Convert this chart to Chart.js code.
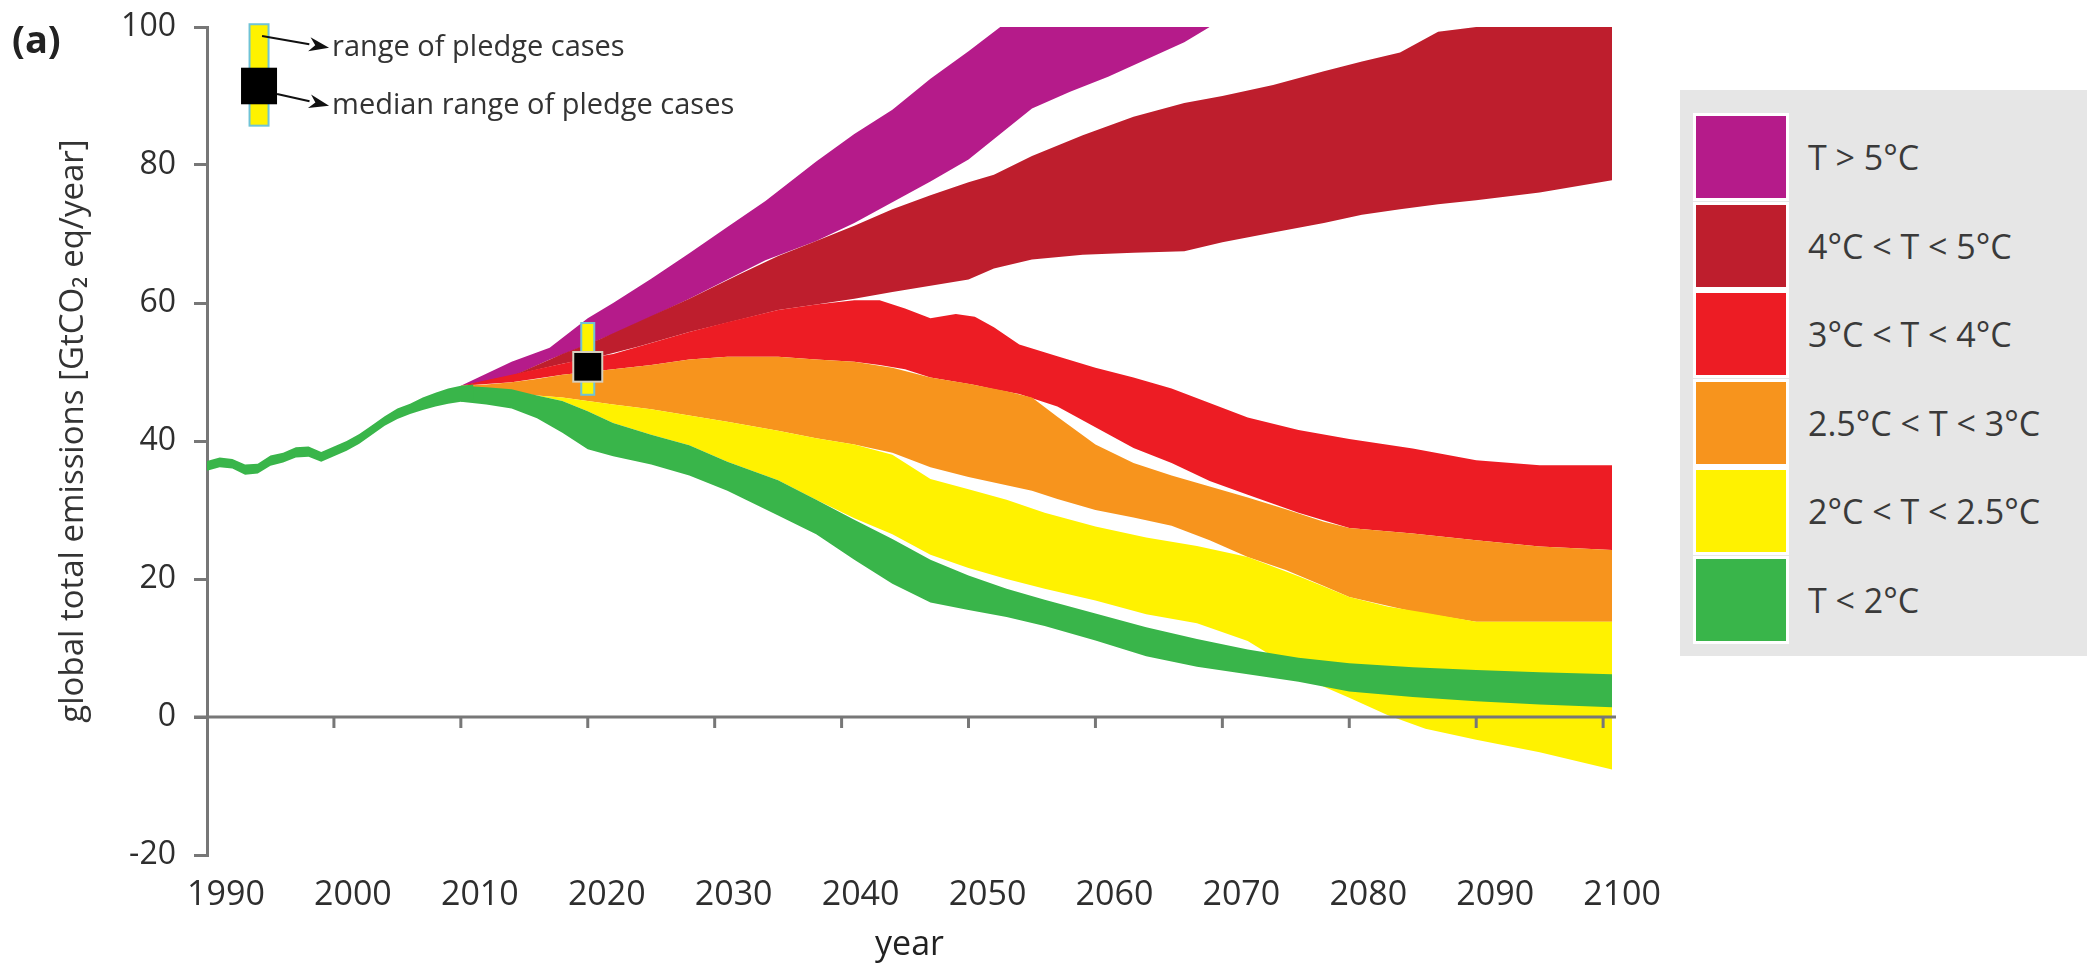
<!DOCTYPE html>
<html>
<head>
<meta charset="utf-8">
<title>Global emission pathways</title>
<script src="https://cdn.jsdelivr.net/npm/chart.js@4.4.1/dist/chart.umd.min.js"></script>
<style>
  html, body { margin: 0; padding: 0; background: #fff; }
  #wrap { position: relative; width: 2087px; height: 963px; overflow: hidden; }
  #legend { position: absolute; left: 1680px; top: 90px; width: 407px; height: 566px; background: #e6e6e6; }
  .row { position: absolute; left: 13px; height: 88px; display: flex; align-items: center; }
  .sw { width: 90px; height: 82px; border: 3px solid #fff; }
  .lab { margin-left: 19px; font: 34px 'Open Sans', sans-serif; color: #3a3a3a; white-space: nowrap; }
</style>
</head>
<body>
<div id="wrap">
  <canvas id="chart" width="2087" height="963"></canvas>
  <div id="legend"></div>
</div>
<script>
// Axis ticks
const xTicks = [1990, 2000, 2010, 2020, 2030, 2040, 2050, 2060, 2070, 2080, 2090, 2100];
const yTicks = [-20, 0, 20, 40, 60, 80, 100];

// Historical emissions (thin band)
const histYears = [1990, 1991, 1992, 1993, 1994, 1995, 1996, 1997, 1998, 1999, 2000, 2001, 2002, 2003, 2004, 2005, 2006, 2007, 2008, 2009, 2010, 2011];
const histUpper = [37.1, 37.6, 37.4, 36.6, 36.7, 37.9, 38.3, 39.1, 39.2, 38.4, 39.2, 40.0, 41.0, 42.3, 43.6, 44.7, 45.4, 46.3, 47.0, 47.6, 48.0, 48.2];
const histLower = [35.7, 36.2, 36.0, 35.1, 35.3, 36.4, 36.9, 37.6, 37.7, 37.0, 37.8, 38.6, 39.6, 40.9, 42.2, 43.2, 43.9, 44.5, 45.0, 45.4, 45.7, 46.0];

// T < 2°C
const greenYears = [2010, 2012, 2014, 2016, 2018, 2020, 2022, 2025, 2028, 2031, 2035, 2038, 2041, 2044, 2047, 2050, 2053, 2056, 2060, 2064, 2068, 2072, 2076, 2080, 2085, 2090, 2095, 2100.7];
const greenUpper = [48.0, 47.8, 47.5, 46.6, 45.8, 44.3, 42.6, 40.9, 39.4, 37.0, 34.3, 31.5, 28.6, 25.8, 22.8, 20.5, 18.6, 17.0, 15.0, 13.0, 11.3, 9.8, 8.6, 7.8, 7.2, 6.8, 6.5, 6.2];
const greenLower = [45.7, 45.3, 44.7, 43.3, 41.2, 38.8, 37.8, 36.6, 35.0, 32.8, 29.2, 26.5, 22.8, 19.3, 16.6, 15.5, 14.5, 13.2, 11.1, 8.8, 7.3, 6.2, 5.1, 3.7, 2.9, 2.3, 1.8, 1.4];

// 2°C < T < 2.5°C
const yellowYears = [2016, 2018, 2020, 2022, 2025, 2028, 2031, 2035, 2038, 2041, 2044, 2047, 2050, 2053, 2056, 2060, 2064, 2068, 2072, 2076, 2078, 2080, 2083, 2086, 2090, 2095, 2100.7];
const yellowUpper = [46.6, 46.3, 45.8, 45.3, 44.6, 43.7, 42.8, 41.5, 40.4, 39.5, 38.0, 34.5, 33.0, 31.5, 29.6, 27.6, 26.0, 24.8, 23.2, 20.4, 18.9, 17.4, 16.0, 15.1, 13.8, 13.8, 13.8];
const yellowLower = [46.6, 45.8, 44.3, 42.6, 40.9, 39.4, 37.0, 34.3, 31.5, 28.8, 26.5, 23.5, 21.6, 20.0, 18.6, 16.9, 14.9, 13.6, 11.0, 6.5, 4.4, 2.8, 0.3, -1.7, -3.3, -5.1, -7.6];

// 2.5°C < T < 3°C
const orangeYears = [2010, 2012, 2014, 2016, 2018, 2020, 2022, 2025, 2028, 2031, 2035, 2038, 2041, 2044, 2047, 2050, 2053, 2055, 2057, 2060, 2063, 2066, 2069, 2072, 2075, 2078, 2080, 2085, 2090, 2095, 2100.7];
const orangeUpper = [48.0, 48.2, 48.5, 49.0, 49.6, 50.0, 50.4, 51.0, 51.8, 52.2, 52.2, 51.8, 51.5, 50.6, 49.2, 48.3, 47.2, 46.3, 43.5, 39.5, 36.8, 35.0, 33.4, 31.8, 30.1, 28.3, 27.4, 26.6, 25.6, 24.7, 24.2];
const orangeLower = [47.8, 47.5, 47.1, 46.6, 46.3, 45.8, 45.3, 44.6, 43.7, 42.8, 41.5, 40.4, 39.5, 38.3, 36.2, 34.8, 33.6, 32.8, 31.6, 30.0, 28.9, 27.7, 25.6, 23.2, 21.3, 19.0, 17.4, 15.3, 13.8, 13.8, 13.8];

// 3°C < T < 4°C
const redYears = [2010, 2014, 2018, 2020, 2022, 2025, 2028, 2031, 2035, 2038, 2041, 2043, 2045, 2047, 2049, 2050.5, 2052, 2054, 2057, 2060, 2063, 2066, 2069, 2072, 2076, 2080, 2085, 2090, 2095, 2100.7];
const redUpper = [48.0, 49.6, 51.2, 52.0, 52.6, 54.2, 55.8, 57.2, 59.0, 59.8, 60.4, 60.4, 59.2, 57.8, 58.4, 58.0, 56.5, 54.0, 52.3, 50.6, 49.2, 47.6, 45.5, 43.4, 41.6, 40.3, 38.9, 37.2, 36.5, 36.5];
const redLower = [48.0, 48.5, 49.6, 50.0, 50.4, 51.0, 51.8, 52.2, 52.2, 51.8, 51.5, 51.0, 50.4, 49.2, 48.6, 48.1, 47.5, 46.8, 45.0, 42.0, 39.0, 36.8, 34.2, 32.2, 29.6, 27.4, 26.6, 25.6, 24.7, 24.2];

// 4°C < T < 5°C
const darkRedYears = [2010, 2014, 2018, 2021, 2024, 2028, 2032, 2035, 2038, 2041, 2044, 2047, 2050, 2052, 2055, 2059, 2063, 2067, 2070, 2074, 2078, 2081, 2084, 2087, 2090, 2095, 2100.7];
const darkRedUpper = [48.0, 49.4, 52.6, 54.8, 57.3, 60.6, 64.2, 66.8, 69.0, 71.2, 73.6, 75.6, 77.5, 78.6, 81.3, 84.3, 87.0, 89.0, 90.0, 91.6, 93.6, 95.0, 96.3, 99.3, 100, 100, 100];
const darkRedLower = [48.0, 49.5, 51.2, 52.3, 53.7, 55.8, 57.6, 59.0, 59.8, 60.6, 61.6, 62.5, 63.4, 65.0, 66.3, 67.0, 67.3, 67.5, 68.8, 70.2, 71.6, 72.8, 73.6, 74.3, 74.9, 76.0, 77.8];

// T > 5°C
const magentaYears = [2010, 2014, 2017, 2020, 2022, 2025, 2028, 2031, 2034, 2038, 2041, 2044, 2047, 2050, 2052.5, 2055, 2058, 2061, 2064, 2067, 2069];
const magentaUpper = [48.0, 51.5, 53.5, 57.8, 60.0, 63.5, 67.2, 71.0, 74.8, 80.5, 84.5, 88.0, 92.5, 96.5, 100, 100, 100, 100, 100, 100, 100];
const magentaLower = [48.0, 49.3, 51.8, 54.0, 55.5, 58.0, 60.6, 63.4, 66.2, 69.0, 71.6, 74.6, 77.6, 80.8, 84.5, 88.2, 90.6, 92.8, 95.3, 97.8, 100];

// Pledge case marker and its key
const pledgeYear = 2020;
const pledgeRange = [46.7, 57.1];
const pledgeMedian = [48.6, 52.9];
const keyYear = 1994.1;
const keyRange = [85.7, 100.4];
const keyMedian = [88.8, 94.1];

const legendLabels = ['T > 5°C', '4°C < T < 5°C', '3°C < T < 4°C', '2.5°C < T < 3°C', '2°C < T < 2.5°C', 'T < 2°C'];
const legendColors = ['#b51b8a', '#be1e2d', '#ed1c24', '#f7941d', '#fff200', '#39b54a'];

const COLORS = {
    magenta: '#b51b8a',
    darkRed: '#be1e2d',
    red: '#ed1c24',
    orange: '#f7941d',
    yellow: '#fff200',
    green: '#39b54a'
};
const AXIS = '#777';
const TEXT = '#333';

function toPoints(xs, ys) {
    return xs.map((x, i) => ({ x, y: ys[i] }));
}

// each band = a lower line plus an upper line filled down to it
function band(years, lower, upper, color) {
    return [
        { data: toPoints(years, lower), borderColor: 'rgba(0,0,0,0)', borderWidth: 1, pointRadius: 0, fill: false },
        { data: toPoints(years, upper), borderColor: 'rgba(0,0,0,0)', borderWidth: 1, pointRadius: 0,
          backgroundColor: color, fill: '-1' }
    ];
}

// first dataset is painted last, so green ends up on top
const datasets = [
    ...band(histYears, histLower, histUpper, COLORS.green),
    ...band(greenYears, greenLower, greenUpper, COLORS.green),
    ...band(yellowYears, yellowLower, yellowUpper, COLORS.yellow),
    ...band(orangeYears, orangeLower, orangeUpper, COLORS.orange),
    ...band(redYears, redLower, redUpper, COLORS.red),
    ...band(darkRedYears, darkRedLower, darkRedUpper, COLORS.darkRed),
    ...band(magentaYears, magentaLower, magentaUpper, COLORS.magenta)
];

function arrow(ctx, x1, y1, x2, y2) {
    const a = Math.atan2(y2 - y1, x2 - x1);
    const len = 20, half = 7;
    ctx.beginPath();
    ctx.moveTo(x1, y1);
    ctx.lineTo(x2 - len * Math.cos(a), y2 - len * Math.sin(a));
    ctx.stroke();
    ctx.beginPath();
    ctx.moveTo(x2, y2);
    ctx.lineTo(x2 - len * Math.cos(a) + half * Math.sin(a), y2 - len * Math.sin(a) - half * Math.cos(a));
    ctx.lineTo(x2 - len * 0.7 * Math.cos(a), y2 - len * 0.7 * Math.sin(a));
    ctx.lineTo(x2 - len * Math.cos(a) - half * Math.sin(a), y2 - len * Math.sin(a) + half * Math.cos(a));
    ctx.closePath();
    ctx.fill();
}

function pledgeMarker(ctx, x, y, year, range, median, barW, boxW, boxEdge) {
    const px = x.getPixelForValue(year);
    const top = y.getPixelForValue(range[1]);
    const bottom = y.getPixelForValue(range[0]);
    ctx.fillStyle = COLORS.yellow;
    ctx.strokeStyle = '#6fc3d6';
    ctx.lineWidth = 2;
    ctx.fillRect(px - barW / 2, top, barW, bottom - top);
    ctx.strokeRect(px - barW / 2, top, barW, bottom - top);
    const mTop = y.getPixelForValue(median[1]);
    const mBottom = y.getPixelForValue(median[0]);
    ctx.fillStyle = '#000';
    ctx.fillRect(px - boxW / 2, mTop, boxW, mBottom - mTop);
    if (boxEdge) {
        ctx.strokeStyle = boxEdge;
        ctx.strokeRect(px - boxW / 2, mTop, boxW, mBottom - mTop);
    }
    return px;
}

const decorations = {
    id: 'decorations',
    afterDatasetsDraw(chart) {
        const { ctx, scales: { x, y } } = chart;
        ctx.save();

        // horizontal axis drawn at zero, ticks hanging below it
        const y0 = y.getPixelForValue(0);
        ctx.strokeStyle = AXIS;
        ctx.lineWidth = 3;
        ctx.beginPath();
        ctx.moveTo(x.left - 13, y0);
        ctx.lineTo(x.right + 4, y0);
        ctx.stroke();
        xTicks.slice(1).forEach(v => {
            const px = x.getPixelForValue(v);
            ctx.beginPath();
            ctx.moveTo(px, y0);
            ctx.lineTo(px, y0 + 11);
            ctx.stroke();
        });

        // pledge markers
        pledgeMarker(ctx, x, y, pledgeYear, pledgeRange, pledgeMedian, 13, 29, '#d6cfbf');
        const kx = pledgeMarker(ctx, x, y, keyYear, keyRange, keyMedian, 19, 36, null);

        // key arrows and text
        ctx.strokeStyle = '#111';
        ctx.fillStyle = '#111';
        ctx.lineWidth = 2;
        arrow(ctx, kx + 3, y.getPixelForValue(98.7), kx + 70, y.getPixelForValue(97.0));
        arrow(ctx, kx + 18, y.getPixelForValue(90.3), kx + 70, y.getPixelForValue(88.6));
        ctx.fillStyle = TEXT;
        ctx.font = "29px 'Open Sans', sans-serif";
        ctx.textAlign = 'left';
        ctx.textBaseline = 'middle';
        ctx.fillText('range of pledge cases', kx + 73, y.getPixelForValue(97.0));
        ctx.fillText('median range of pledge cases', kx + 73, y.getPixelForValue(88.6));

        // panel letter
        ctx.fillStyle = '#222';
        ctx.font = "bold 38px 'Open Sans', sans-serif";
        ctx.fillText('(a)', 12, 42);

        // axis titles
        ctx.font = "34px 'Open Sans', sans-serif";
        ctx.textAlign = 'center';
        ctx.fillText('year', (x.left + x.right) / 2, 945);

        ctx.translate(74, 431);
        ctx.rotate(-Math.PI / 2);
        ctx.fillStyle = TEXT;
        ctx.font = "33px 'Open Sans', sans-serif";
        ctx.fillText('global total emissions [GtCO\u2082 eq/year]', 0, 0);
        ctx.restore();
    }
};

function noPadding(scale) {
    scale.paddingLeft = 0;
    scale.paddingRight = 0;
    scale.paddingTop = 0;
    scale.paddingBottom = 0;
}

function buildLegend() {
    const box = document.getElementById('legend');
    legendLabels.forEach((label, i) => {
        const row = document.createElement('div');
        row.className = 'row';
        row.style.top = (23 + i * 88.5) + 'px';
        row.innerHTML = `<div class="sw" style="background:${legendColors[i]}"></div><span class="lab">${label}</span>`;
        box.appendChild(row);
    });
}

Chart.defaults.font.family = "'Open Sans', sans-serif";

new Chart(document.getElementById('chart'), {
    type: 'line',
    data: { datasets },
    options: {
        responsive: false,
        animation: false,
        events: [],
        layout: { padding: { top: 27, right: 475, left: 0, bottom: 0 } },
        plugins: {
            legend: { display: false },
            tooltip: { enabled: false }
        },
        scales: {
            x: {
                type: 'linear',
                min: 1990,
                max: 2100.7,
                afterBuildTicks: s => { s.ticks = xTicks.map(v => ({ value: v })); },
                afterFit: s => { s.height = 108; noPadding(s); },
                grid: { display: false, drawTicks: false },
                border: { display: false },
                ticks: {
                    font: { size: 34 },
                    color: '#2e2e2e',
                    padding: 20,
                    labelOffset: 19,
                    maxRotation: 0,
                    autoSkip: false,
                    callback: v => String(v)
                }
            },
            y: {
                min: -20,
                max: 100,
                afterBuildTicks: s => { s.ticks = yTicks.map(v => ({ value: v })); },
                afterFit: s => { s.width = 207; noPadding(s); },
                border: { display: true, color: AXIS, width: 3 },
                grid: { drawOnChartArea: false, drawTicks: true, tickLength: 13, color: AXIS, lineWidth: 3 },
                ticks: {
                    font: { size: 32 },
                    color: '#2e2e2e',
                    padding: 18,
                    callback: v => String(v)
                }
            }
        }
    },
    plugins: [decorations]
});

buildLegend();
</script>
</body>
</html>
